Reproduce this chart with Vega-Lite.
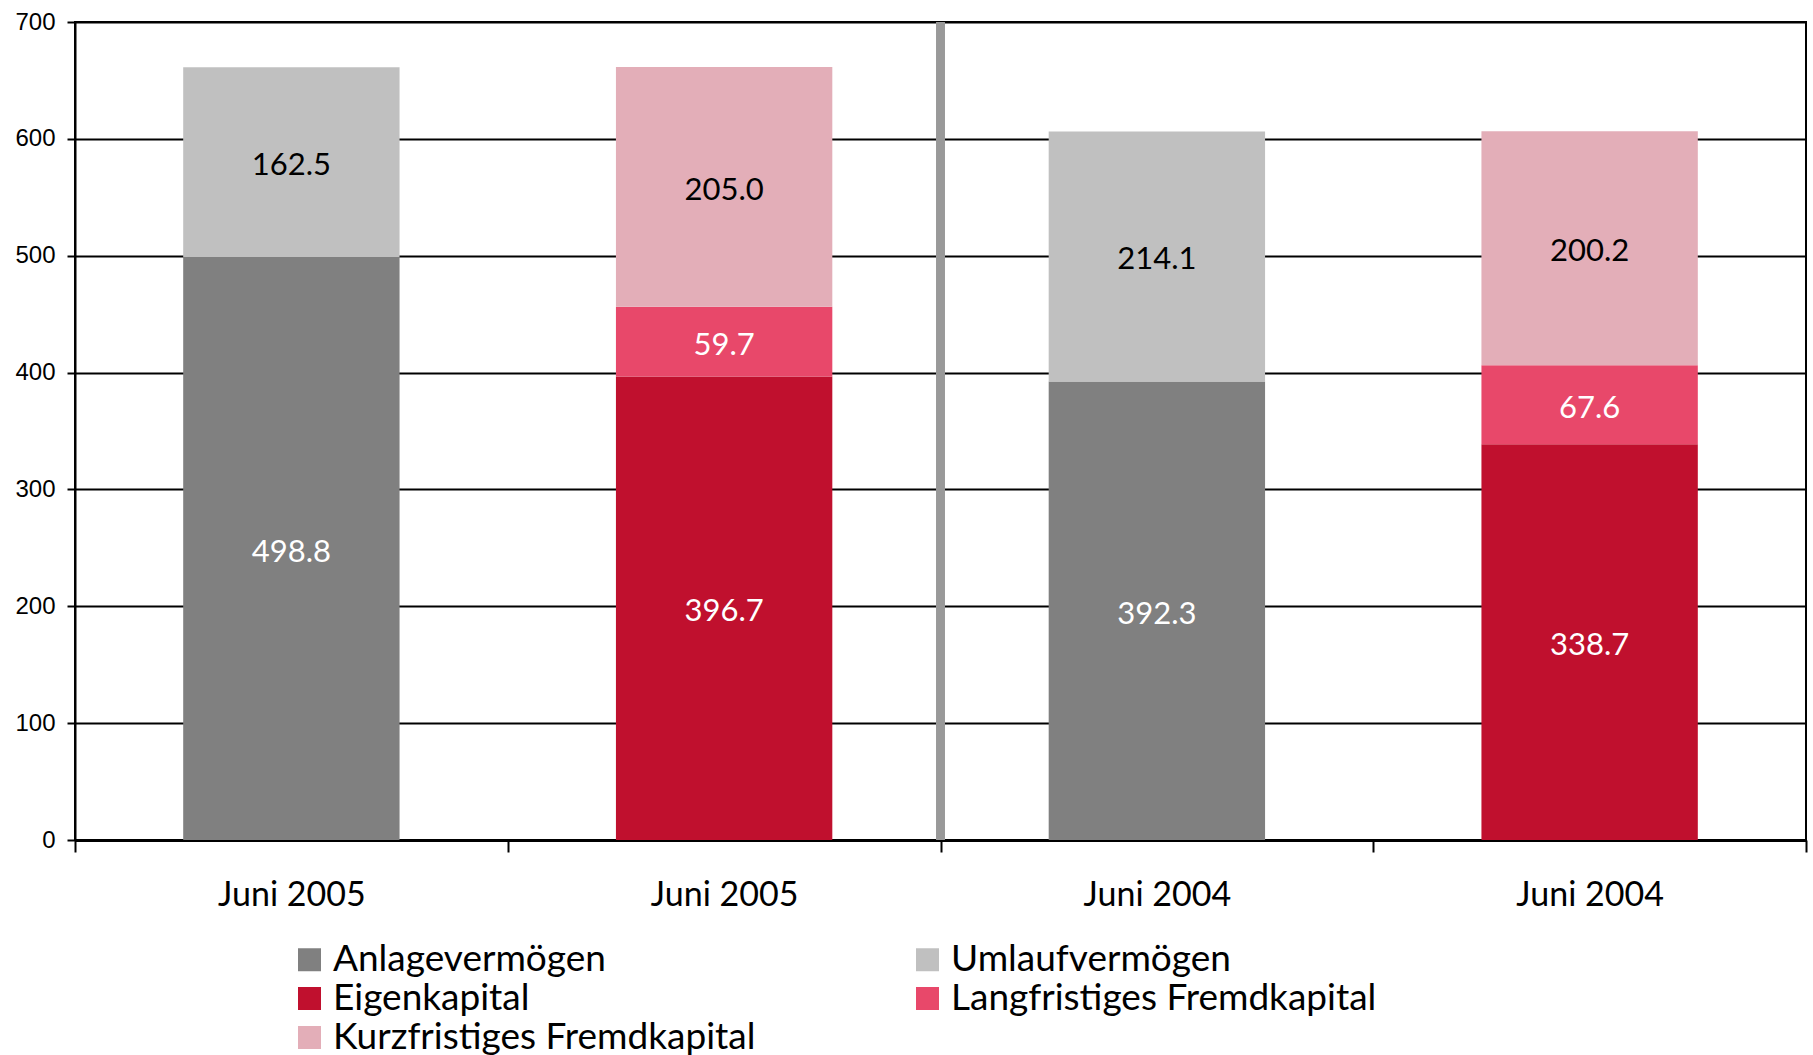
{
  "$schema": "https://vega.github.io/schema/vega-lite/v6.json",
  "width": 1731,
  "height": 818,
  "autosize": {"type": "none"},
  "padding": {"left": 75, "top": 22, "right": 7, "bottom": 215},
  "config": {
    "view": {"stroke": "black", "strokeWidth": 2},
    "font": "Lato"
  },
  "data": {
    "values": [
      {"saeule": "Juni 2005 Aktiva", "posten": "Anlagevermögen", "ordnung": 1, "wert": 498.8},
      {"saeule": "Juni 2005 Aktiva", "posten": "Umlaufvermögen", "ordnung": 2, "wert": 162.5},
      {"saeule": "Juni 2005 Passiva", "posten": "Eigenkapital", "ordnung": 1, "wert": 396.7},
      {"saeule": "Juni 2005 Passiva", "posten": "Langfristiges Fremdkapital", "ordnung": 2, "wert": 59.7},
      {"saeule": "Juni 2005 Passiva", "posten": "Kurzfristiges Fremdkapital", "ordnung": 3, "wert": 205.0},
      {"saeule": "Juni 2004 Aktiva", "posten": "Anlagevermögen", "ordnung": 1, "wert": 392.3},
      {"saeule": "Juni 2004 Aktiva", "posten": "Umlaufvermögen", "ordnung": 2, "wert": 214.1},
      {"saeule": "Juni 2004 Passiva", "posten": "Eigenkapital", "ordnung": 1, "wert": 338.7},
      {"saeule": "Juni 2004 Passiva", "posten": "Langfristiges Fremdkapital", "ordnung": 2, "wert": 67.6},
      {"saeule": "Juni 2004 Passiva", "posten": "Kurzfristiges Fremdkapital", "ordnung": 3, "wert": 200.2}
    ]
  },
  "layer": [
    {
      "mark": {"type": "bar", "width": {"band": 0.5}},
      "encoding": {
        "x": {
          "field": "saeule",
          "type": "nominal",
          "sort": ["Juni 2005 Aktiva", "Juni 2005 Passiva", "Juni 2004 Aktiva", "Juni 2004 Passiva"],
          "scale": {"paddingInner": 0, "paddingOuter": 0},
          "axis": {
            "title": null,
            "labelExpr": "slice(datum.label, 0, 9)",
            "tickBand": "extent",
            "labelAngle": 0,
            "tickSize": 12,
            "tickWidth": 2,
            "tickColor": "black",
            "domainColor": "black",
            "domainWidth": 3,
            "labelFontSize": 34,
            "labelFont": "Lato",
            "labelColor": "black",
            "labelPadding": 26,
            "grid": false
          }
        },
        "y": {
          "field": "wert",
          "type": "quantitative",
          "stack": "zero",
          "scale": {"domain": [0, 700], "nice": false},
          "axis": {
            "title": null,
            "values": [0, 100, 200, 300, 400, 500, 600, 700],
            "grid": true,
            "gridColor": "black",
            "gridWidth": 2,
            "gridOpacity": 1,
            "domainColor": "black",
            "domainWidth": 2,
            "tickColor": "black",
            "tickSize": 8,
            "tickWidth": 2,
            "labelFont": "Liberation Sans",
            "labelFontSize": 24,
            "labelColor": "black",
            "labelPadding": 12
          }
        },
        "color": {
          "field": "posten",
          "type": "nominal",
          "scale": {
            "domain": ["Anlagevermögen", "Umlaufvermögen", "Eigenkapital", "Langfristiges Fremdkapital", "Kurzfristiges Fremdkapital"],
            "range": ["#808080", "#C0C0C0", "#C0102E", "#E8486A", "#E3AEB8"]
          },
          "legend": {
            "title": null,
            "orient": "none",
            "legendX": 216,
            "legendY": 919,
            "columns": 2,
            "direction": "horizontal",
            "symbolType": "square",
            "symbolSize": 529,
            "symbolStrokeWidth": 0,
            "symbolOpacity": 1,
            "labelFontSize": 37,
            "labelFont": "Lato",
            "labelColor": "black",
            "labelOffset": 5,
            "labelLimit": 700,
            "rowPadding": 1,
            "columnPadding": 153,
            "padding": 0
          }
        },
        "order": {"field": "ordnung", "type": "quantitative"}
      }
    },
    {
      "mark": {"type": "rule", "color": "#999999", "strokeWidth": 8},
      "encoding": {
        "x": {
          "datum": "Juni 2004 Aktiva",
          "type": "nominal",
          "bandPosition": 0,
          "sort": ["Juni 2005 Aktiva", "Juni 2005 Passiva", "Juni 2004 Aktiva", "Juni 2004 Passiva"]
        }
      }
    },
    {
      "transform": [
        {"stack": "wert", "groupby": ["saeule"], "sort": [{"field": "ordnung"}], "as": ["y0", "y1"]},
        {"calculate": "(datum.y0 + datum.y1) / 2", "as": "ymitte"}
      ],
      "mark": {"type": "text", "fontSize": 31, "font": "Lato", "baseline": "middle", "align": "center", "dy": 4},
      "encoding": {
        "x": {
          "field": "saeule",
          "type": "nominal",
          "sort": ["Juni 2005 Aktiva", "Juni 2005 Passiva", "Juni 2004 Aktiva", "Juni 2004 Passiva"]
        },
        "y": {"field": "ymitte", "type": "quantitative"},
        "text": {"field": "wert", "type": "quantitative", "format": ".1f"},
        "color": {
          "condition": {"test": "datum.posten === 'Umlaufvermögen' || datum.posten === 'Kurzfristiges Fremdkapital'", "value": "black"},
          "value": "white"
        }
      }
    }
  ]
}
